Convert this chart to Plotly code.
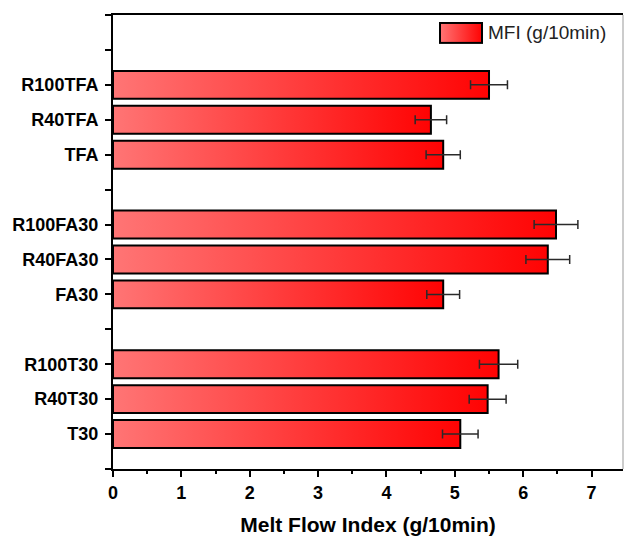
import base64
import plotly.graph_objects as go

# ---- data (bottom to top) ----
groups = [
    ["T30", "R40T30", "R100T30"],
    ["FA30", "R40FA30", "R100FA30"],
    ["TFA", "R40TFA", "R100TFA"],
]
mfi = [5.08, 5.48, 5.64, 4.83, 6.36, 6.48, 4.83, 4.65, 5.50]
mfi_err = [0.26, 0.27, 0.28, 0.24, 0.32, 0.32, 0.25, 0.23, 0.27]
x_ticks = [0, 1, 2, 3, 4, 5, 6, 7]
series_name = "MFI (g/10min)"
x_title = "Melt Flow Index (g/10min)"

# category slots: each group of 3 followed by an empty slot
categories, slots = [], []
pos = 1
for g in groups:
    for c in g:
        categories.append(c)
        slots.append(pos)
        pos += 1
    pos += 1
n_slots = pos  # top of axis

FONT = "Liberation Sans, Arial, sans-serif"
grad = [[0, "#ff7575"], [1, "#ff0303"]]
half = 0.4

fig = go.Figure()
for c, p, v in zip(categories, slots, mfi):
    fig.add_trace(go.Scatter(
        x=[0, v, v, 0, 0],
        y=[p - half, p - half, p + half, p + half, p - half],
        mode="lines", fill="toself",
        fillgradient=dict(type="horizontal", colorscale=grad),
        line=dict(color="black", width=2),
        name=c, showlegend=False, hoverinfo="skip",
    ))

fig.add_trace(go.Scatter(
    x=mfi, y=slots, mode="markers",
    marker=dict(size=1, color="rgba(0,0,0,0)"),
    error_x=dict(type="data", array=mfi_err, symmetric=True,
                 color="#2a2a2a", thickness=1.5, width=4.5),
    showlegend=False, name=series_name,
))

ticktext = []
lab = dict(zip(slots, categories))
for t in range(0, n_slots + 1):
    ticktext.append(lab.get(t, ""))

fig.update_layout(
    width=625, height=536,
    margin=dict(l=113, r=2, t=15, b=65),
    paper_bgcolor="white", plot_bgcolor="white",
    font=dict(family=FONT, color="black"),
    showlegend=False,
    xaxis=dict(
        range=[0, 7.46], tickvals=x_ticks, ticks="outside", ticklen=6,
        tickwidth=2, tickcolor="black",
        minor=dict(dtick=0.5, ticks="outside", ticklen=3, tickwidth=2, tickcolor="black"),
        showline=True, linecolor="black", linewidth=2, mirror=True,
        showgrid=False, zeroline=False,
        tickfont=dict(size=18, weight="bold", family=FONT),
        title=dict(text=x_title, font=dict(size=21, weight="bold", family=FONT), standoff=17),
    ),
    yaxis=dict(
        range=[0, n_slots], tickvals=list(range(0, n_slots + 1)), ticktext=ticktext,
        ticks="outside", ticklen=6, tickwidth=2, tickcolor="black",
        showline=True, linecolor="black", linewidth=2,
        showgrid=False, zeroline=False, ticklabelstandoff=3,
        tickfont=dict(size=18, weight="bold", family=FONT),
    ),
)

# right frame line (thin grey)
fig.add_shape(type="line", xref="paper", yref="paper", x0=1, x1=1, y0=0, y1=1,
              line=dict(color="#999999", width=1))

# legend swatch (gradient) + label
svg = ('<svg xmlns="http://www.w3.org/2000/svg" width="44" height="22">'
       '<defs><linearGradient id="g"><stop offset="0" stop-color="#ff7575"/>'
       '<stop offset="1" stop-color="#ff0303"/></linearGradient></defs>'
       '<rect x="1" y="1" width="42" height="20" fill="url(#g)" stroke="black" stroke-width="2"/></svg>')
src = "data:image/svg+xml;base64," + base64.b64encode(svg.encode()).decode()
fig.add_layout_image(dict(source=src, xref="paper", yref="paper",
                          x=(439 - 113) / 510, y=(470.7 - 22) / 455.7,
                          sizex=44 / 510, sizey=22 / 455.7, sizing="stretch",
                          xanchor="left", yanchor="top", layer="above"))
fig.add_annotation(text=series_name, xref="paper", yref="paper",
                   x=(486 - 113) / 510, y=(470.7 - 33) / 455.7,
                   xanchor="left", yanchor="middle", showarrow=False,
                   font=dict(size=19, family=FONT, color="#222222"))

fig.write_html("out.html")
